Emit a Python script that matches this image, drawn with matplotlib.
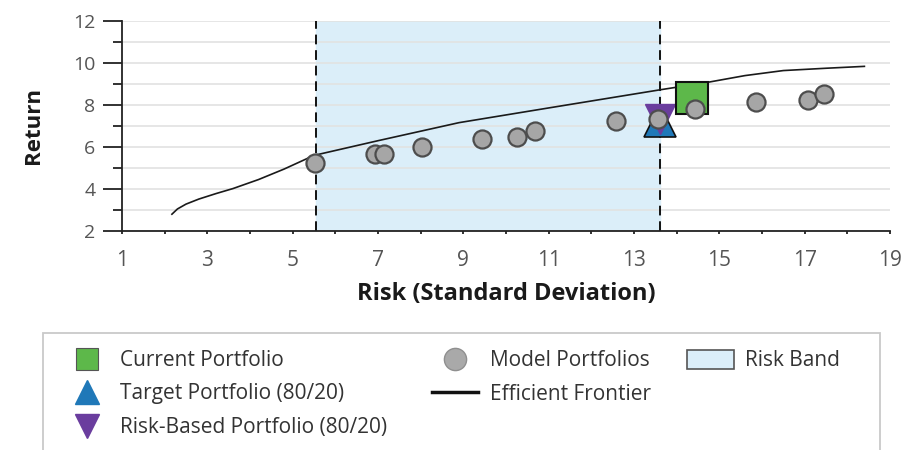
import matplotlib
matplotlib.use("Agg")
import matplotlib.pyplot as plt
from matplotlib.lines import Line2D
from matplotlib.patches import Patch, Rectangle

plt.rcParams['font.family'] = ['Open Sans', 'DejaVu Sans']

# efficient frontier (risk, return)
frontier_risk = [2.17, 2.3, 2.5, 2.8, 3.2, 3.6, 4.2, 4.8, 5.5, 7.0, 8.9, 11.0, 13.6, 14.7, 15.6, 16.5, 17.5, 18.4]
frontier_ret = [2.8, 3.05, 3.28, 3.52, 3.78, 4.02, 4.45, 4.95, 5.6, 6.3, 7.16, 7.86, 8.72, 9.07, 9.4, 9.64, 9.75, 9.84]

# model portfolios
model_risk = [5.53, 6.94, 7.15, 8.04, 9.43, 10.25, 10.69, 12.57, 13.56, 14.43, 15.86, 17.08, 17.46]
model_ret = [5.25, 5.68, 5.68, 6.01, 6.40, 6.49, 6.78, 7.26, 7.35, 7.81, 8.16, 8.26, 8.52]

current = (14.36, 8.35)
target = (13.6, 7.25)
risk_based = (13.6, 7.35)

band = (5.55, 13.6)

x_ticks = list(range(1, 20, 2))
y_ticks = list(range(2, 13, 2))

label_col = '#555555'
green = '#5db84a'
blue = '#1f78b8'
purple = '#6a3d9e'
band_col = '#dbeef9'

fig = plt.figure(figsize=(9.21, 4.5), dpi=100)
ax = fig.add_axes([122 / 921, 1 - 231 / 450, 768 / 921, 210 / 450])

ax.axvspan(band[0], band[1], color=band_col, zorder=0)
for b in band:
    ax.axvline(b, color='#111111', lw=1.4, ls=(0, (5, 3)), zorder=2)

ax.plot(frontier_risk, frontier_ret, color='#1a1a1a', lw=1.2, zorder=3)

ax.plot(*target, marker='^', ms=23, mfc=blue, mec='#111111', mew=1.2, ls='none', zorder=4)
ax.plot(*risk_based, marker='v', ms=21, mfc=purple, mec=purple, mew=1.0, ls='none', zorder=4)
ax.plot(*current, marker='s', ms=23, mfc=green, mec='#111111', mew=1.5, ls='none', zorder=5)
ax.plot(model_risk, model_ret, marker='o', ms=13, mfc='#a6a6a6', mec='#4d4d4d', mew=1.6,
        ls='none', zorder=6)

ax.set_xlim(1, 19)
ax.set_ylim(2, 12)
ax.set_xticks(x_ticks)
ax.set_xticks(range(2, 19, 2), minor=True)
ax.set_yticks(y_ticks)
ax.set_yticks(range(3, 12, 2), minor=True)
ax.yaxis.grid(True, which='both', color='#e2e2e2', lw=1.2, zorder=1)
ax.set_axisbelow(True)

for side in ['top', 'right']:
    ax.spines[side].set_visible(False)
for side in ['left', 'bottom']:
    ax.spines[side].set_color('#222222')
    ax.spines[side].set_linewidth(1.3)

ax.tick_params(axis='y', which='major', length=14, width=1.3, color='#222222',
               labelsize=14, labelcolor=label_col, pad=5)
ax.tick_params(axis='y', which='minor', length=6.5, width=1.3, color='#222222')
ax.tick_params(axis='x', which='both', length=2.5, width=1.3, color='#222222',
               labelsize=15, labelcolor=label_col, pad=11)

ax.set_xlabel('Risk (Standard Deviation)', fontsize=17, fontweight='bold', color='#1a1a1a', labelpad=8)
ax.set_ylabel('Return', fontsize=16, fontweight='bold', color='#1a1a1a', labelpad=21)

# legend box, open at the bottom
fig.patches.append(Rectangle((43 / 921, -0.1), 837 / 921, 0.1 + 1 - 333 / 450,
                             transform=fig.transFigure, fill=False,
                             ec='#c9c9c9', lw=1.3))

leg_kw = dict(loc='upper left', frameon=False, fontsize=15, borderaxespad=0, borderpad=0,
              labelcolor='#333333', labelspacing=0.6)
top = 1 - 350 / 450

h1 = [Line2D([], [], marker='s', ms=16, mfc=green, mec='#555555', mew=0.8, ls='none'),
      Line2D([], [], marker='^', ms=17, mfc=blue, mec=blue, ls='none'),
      Line2D([], [], marker='v', ms=17, mfc=purple, mec=purple, ls='none')]
l1 = fig.legend(h1, ['Current Portfolio', 'Target Portfolio (80/20)', 'Risk-Based Portfolio (80/20)'],
                bbox_to_anchor=(72 / 921, top), handlelength=1.45, handletextpad=0.87, **leg_kw)

h2 = [Line2D([], [], marker='o', ms=16, mfc='#a9a9a9', mec='#8f8f8f', mew=1, ls='none'),
      Line2D([], [], color='#111111', lw=2.5)]
l2 = fig.legend(h2, ['Model Portfolios', 'Efficient Frontier'],
                bbox_to_anchor=(432 / 921, top), handlelength=2.2, handletextpad=0.58, **leg_kw)

h3 = [Patch(fc=band_col, ec='#555555', lw=1.2)]
l3 = fig.legend(h3, ['Risk Band'], bbox_to_anchor=(687 / 921, top),
                handlelength=2.26, handleheight=1.0, handletextpad=0.53, **leg_kw)

fig.savefig('out.png', dpi=100)
